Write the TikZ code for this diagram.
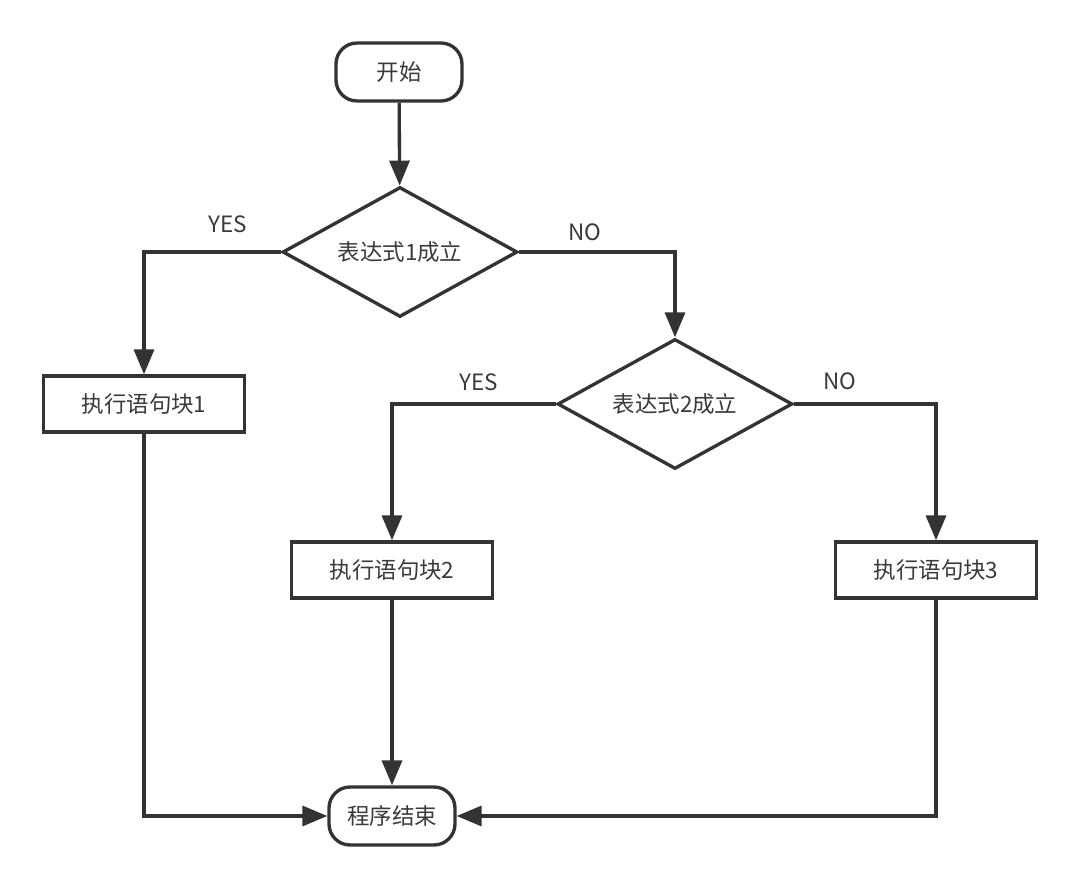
\documentclass[tikz,border=0pt]{standalone}
\usepackage{fontspec}
\setmainfont{Noto Sans CJK SC}
\usetikzlibrary{arrows.meta}
\usetikzlibrary{shapes}
\definecolor{lineGray}{HTML}{333333}
\definecolor{textGray}{HTML}{3A3A3A}

\begin{document}
\begin{tikzpicture}[x = 0.02cm, y = -0.02cm, font = \fontsize{12.8}{15}\selectfont]
	\tikzstyle{terminalStyle}=[shape = rectangle, rounded corners = 0.42cm, minimum width = 2.52cm, minimum height = 1.16cm, inner sep = 0pt, draw = lineGray, line width = 1.9pt, text = textGray, fill = white]
	\tikzstyle{decisionStyle}=[shape = diamond, aspect = 1.8, minimum width = 4.7cm, minimum height = 2.6cm, inner sep = 0pt, draw = lineGray, line width = 1.9pt, text = textGray, fill = white]
	\tikzstyle{processStyle}=[shape = rectangle, minimum width = 4.02cm, minimum height = 1.12cm, inner sep = 0pt, draw = lineGray, line width = 1.9pt, text = textGray, fill = white]
	\tikzstyle{flowStyle}=[draw = lineGray, line width = 1.9pt, -{Triangle[length = 0.5cm, width = 0.4cm]}]
	\tikzstyle{labelStyle}=[inner sep = 0pt, text = textGray]
	\useasboundingbox (0,0) rectangle (1080,889);
	\node[terminalStyle] (start) at (399,72) {开始};
	\node[decisionStyle] (d1) at (400,252) {表达式1成立};
	\node[processStyle] (b1) at (144,404) {执行语句块1};
	\node[decisionStyle] (d2) at (675,404) {表达式2成立};
	\node[processStyle] (b2) at (392,570) {执行语句块2};
	\node[processStyle] (b3) at (936,570) {执行语句块3};
	\node[terminalStyle] (end) at (392,816) {程序结束};
	\node[labelStyle] (yes1) at (228,224) {YES};
	\node[labelStyle] (no1) at (585,232) {NO};
	\node[labelStyle] (yes2) at (479,382) {YES};
	\node[labelStyle] (no2) at (840,381) {NO};
	\draw[flowStyle] (start) -- (d1);
	\draw[flowStyle] (d1.west) -| (b1.north);
	\draw[flowStyle] (d1.east) -| (d2.north);
	\draw[flowStyle] (d2.west) -| (b2.north);
	\draw[flowStyle] (d2.east) -| (b3.north);
	\draw[flowStyle] (b1.south) |- (end.west);
	\draw[flowStyle] (b2) -- (end);
	\draw[flowStyle] (b3.south) |- (end.east);
\end{tikzpicture}
\end{document}
